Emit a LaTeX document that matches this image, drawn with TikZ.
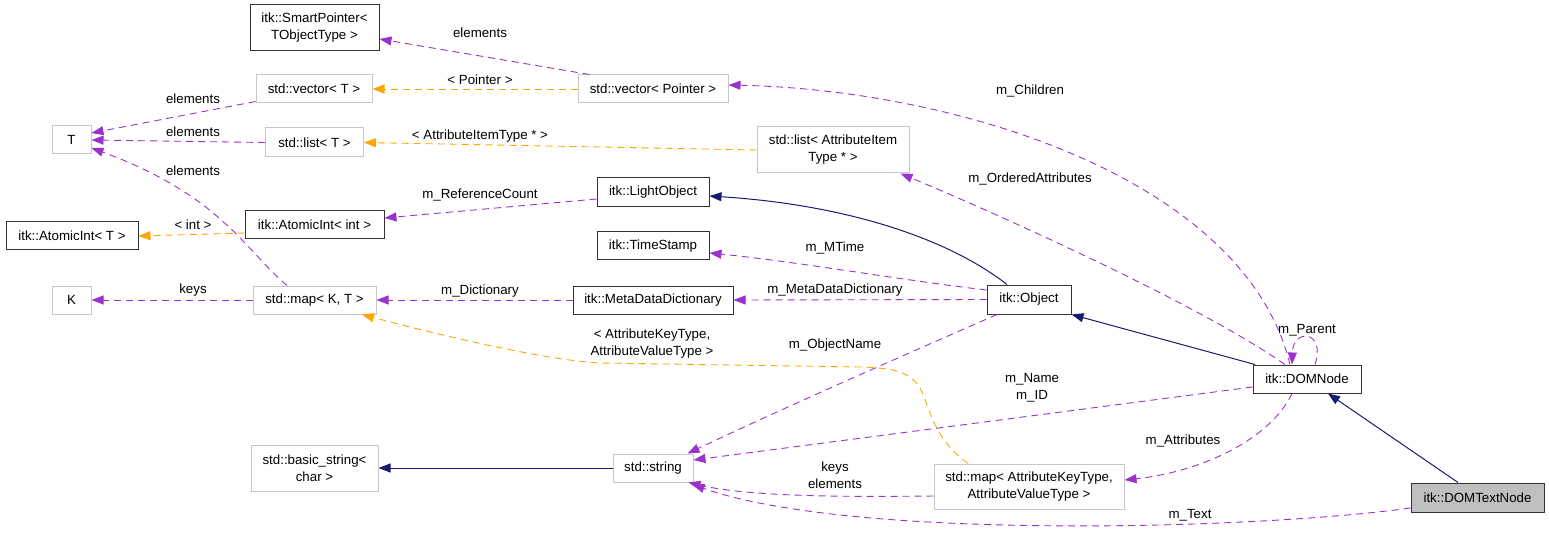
\documentclass[tikz,border=0pt]{standalone}
\usepackage{fontspec}
\setmainfont{Liberation Sans}
\usetikzlibrary{arrows.meta}
\definecolor{membcol}{HTML}{9A32CD}
\definecolor{tmplcol}{HTML}{FFA500}
\definecolor{inhcol}{HTML}{191970}
\newcommand{\doxfont}{\fontsize{13.3}{17}\selectfont}

\begin{document}
\begin{tikzpicture}[
  x=1pt,y=-1pt,
  >={Triangle[length=12pt,width=9pt]},
  cls/.style={rectangle,draw=black!80,line width=1pt,fill=white,align=center,
              inner sep=0pt,font=\doxfont},
  ext/.style={cls,draw=black!22},
  cur/.style={cls,fill=black!25},
  lbl/.style={font=\doxfont,align=center,inner sep=0pt,text=black},
  memb/.style={->,draw=membcol,line width=0.9pt,dash pattern=on 7pt off 5pt},
  tmpl/.style={->,draw=tmplcol,line width=0.9pt,dash pattern=on 7pt off 5pt},
  inh/.style={->,draw=inhcol,line width=1pt}
]
\useasboundingbox (0,0) rectangle (1549,537);

\node[cls,minimum width=129pt,minimum height=46pt] (sp) at (314.5,28) {itk::SmartPointer<\\TObjectType >};
\node[ext,minimum width=116pt,minimum height=28pt] (vecT) at (314,89) {std::vector< T >};
\node[ext,minimum width=150pt,minimum height=28pt] (vecP) at (653,89) {std::vector< Pointer >};
\node[ext,minimum width=39pt,minimum height=28pt] (T) at (71.5,140) {T};
\node[ext,minimum width=98pt,minimum height=29pt] (listT) at (314.5,142.5) {std::list< T >};
\node[ext,minimum width=152pt,minimum height=46pt] (listA) at (833,150) {std::list< AttributeItem\\Type * >};
\node[cls,minimum width=112pt,minimum height=29pt] (lobj) at (653,192.5) {itk::LightObject};
\node[cls,minimum width=132pt,minimum height=28pt] (atomT) at (72,236) {itk::AtomicInt< T >};
\node[cls,minimum width=139pt,minimum height=28pt] (atomI) at (314.5,225) {itk::AtomicInt< int >};
\node[cls,minimum width=112pt,minimum height=28pt] (tstamp) at (653,246) {itk::TimeStamp};
\node[ext,minimum width=39pt,minimum height=28pt] (K) at (71.5,300) {K};
\node[ext,minimum width=123pt,minimum height=28pt] (mapKT) at (314.5,300) {std::map< K, T >};
\node[cls,minimum width=160pt,minimum height=28pt] (mdd) at (653,300) {itk::MetaDataDictionary};
\node[cls,minimum width=84pt,minimum height=29pt] (obj) at (1029,299.5) {itk::Object};
\node[cls,minimum width=108pt,minimum height=28pt] (dom) at (1307,379) {itk::DOMNode};
\node[ext,minimum width=127pt,minimum height=46pt] (bstr) at (314.5,468) {std::basic\_string<\\char >};
\node[ext,minimum width=80pt,minimum height=28pt] (str) at (653,468) {std::string};
\node[ext,minimum width=190pt,minimum height=45pt] (mapA) at (1029,486.5) {std::map< AttributeKeyType,\\AttributeValueType >};
\node[cur,minimum width=133pt,minimum height=29pt] (dtn) at (1477.5,497.5) {itk::DOMTextNode};

% template instances
\draw[tmpl] (vecP.west) -- (vecT.east) node[lbl,at={(480,80)}] {< Pointer >};
\draw[tmpl] (listA.west) -- (listT.east) node[lbl,at={(480,136)}] {< AttributeItemType * >};
\draw[tmpl] ([yshift=-8pt]atomI.west) -- (atomT.east) node[lbl,at={(193,225)}] {< int >};
\draw[tmpl] ([xshift=-61pt]mapA.north) .. controls (935,440) and (930,410) .. (922,392)
  .. controls (912,370) and (890,368) .. (860,367) -- (600,363)
  .. controls (540,360) and (420,330) .. ([xshift=47.5pt]mapKT.south)
  node[lbl,at={(652,344)}] {< AttributeKeyType,\\AttributeValueType >};

% members
\draw[memb] ([xshift=12pt]vecP.north west) -- ([yshift=-11pt]sp.east) node[lbl,at={(480,33)}] {elements};
\draw[memb] ([yshift=2pt]vecT.south west) -- ([yshift=7pt]T.east) node[lbl,at={(193,99)}] {elements};
\draw[memb] (listT.west) -- (T.east) node[lbl,at={(193,132)}] {elements};
\draw[memb] ([xshift=-27.5pt]mapKT.north) .. controls (245,250) and (220,195) .. ([yshift=-8pt]T.east)
  node[lbl,at={(193,171)}] {elements};
\draw[memb] ([yshift=-6.5pt]lobj.west) -- ([yshift=7pt]atomI.east) node[lbl,at={(480,195)}] {m\_ReferenceCount};
\draw[memb] ([yshift=9.5pt]obj.west) .. controls (900,280) and (800,262) .. ([yshift=-7pt]tstamp.east)
  node[lbl,at={(835,248)}] {m\_MTime};
\draw[memb] (obj.west) -- (mdd.east) node[lbl,at={(835,290)}] {m\_MetaDataDictionary};
\draw[memb] (mdd.west) -- (mapKT.east) node[lbl,at={(480,291)}] {m\_Dictionary};
\draw[memb] (mapKT.west) -- (K.east) node[lbl,at={(193,290)}] {keys};
\draw[memb] ([xshift=-32pt]obj.south) .. controls (900,357) and (790,405) .. ([xshift=-6pt]str.north east)
  node[lbl,at={(835,345)}] {m\_ObjectName};
\draw[memb] ([yshift=-8pt]dom.west) -- ([yshift=8pt]str.east) node[lbl,at={(1032,388)}] {m\_Name\\m\_ID};
\draw[memb] ([xshift=-15pt]dom.south) .. controls (1270,440) and (1200,472) .. ([yshift=6.5pt]mapA.east)
  node[lbl,at={(1183,441)}] {m\_Attributes};
\draw[memb] ([yshift=-9.5pt]mapA.west) .. controls (850,497) and (750,497) .. ([xshift=-5pt]str.south east)
  node[lbl,at={(835,475)}] {keys\\elements};
\draw[memb] ([yshift=-10.5pt]dtn.west) .. controls (1250,530) and (850,540) .. ([xshift=-1pt,yshift=-2pt]str.south east)
  node[lbl,at={(1190,515)}] {m\_Text};
\draw[memb] ([xshift=-17pt]dom.north) .. controls (1245,180) and (960,90) .. ([yshift=4pt]vecP.east)
  node[lbl,at={(1030,91)}] {m\_Children};
\draw[memb] ([xshift=-22pt]dom.north) .. controls (1200,305) and (1000,215) .. ([xshift=-9pt]listA.south east)
  node[lbl,at={(1030,179)}] {m\_OrderedAttributes};
\draw[memb] ([xshift=8pt]dom.north) .. controls (1326,330) and (1293,328) .. ([xshift=-15pt]dom.north)
  node[lbl,at={(1307,330)}] {m\_Parent};

% inheritance
\draw[inh] ([xshift=-22pt]obj.north) .. controls (950,240) and (850,205) .. ([yshift=-3.5pt]lobj.east);
\draw[inh] ([xshift=-52pt]dom.north) -- (obj.south east);
\draw[inh] ([xshift=-19.5pt]dtn.north) -- ([xshift=21pt]dom.south);
\draw[inh] (str.west) -- (bstr.east);
\end{tikzpicture}
\end{document}
